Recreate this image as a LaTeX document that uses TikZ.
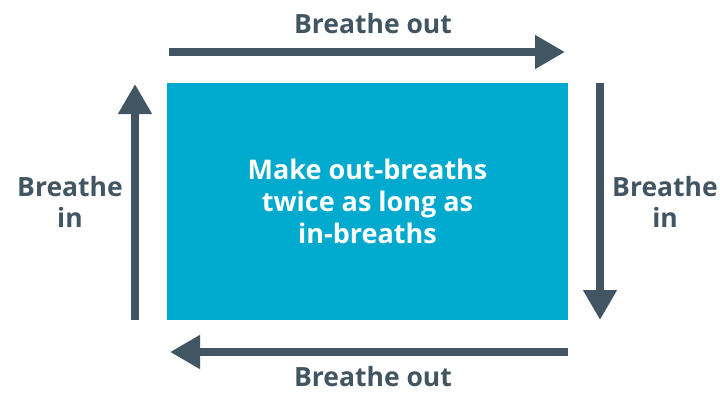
\documentclass[tikz,border=0pt]{standalone}
\usepackage{fontspec}
\setmainfont{Open Sans}
\usepackage{xcolor}
\usetikzlibrary{positioning, arrows.meta}
\definecolor{breathblue}{HTML}{00A9CE}
\definecolor{breathgrey}{HTML}{425563}

\begin{document}
\begin{tikzpicture}[x=1pt, y=-1pt,
  flow/.style={line width=8pt, draw=breathgrey, -{Triangle[length=30pt, width=32pt]}},
  breathlbl/.style={text=breathgrey, inner sep=0pt, font=\bfseries\fontsize{26.5}{31}\selectfont, align=center}]
\useasboundingbox (0,0) rectangle (720,392);
% the box in the middle
\node[fill=breathblue, minimum width=401pt, minimum height=237pt, text=white,
  font=\bfseries\fontsize{27}{32}\selectfont, align=center] (box) at (367.5,201.5)
  {Make out-breaths\\twice as long as\\in-breaths};
% arrow ends
\coordinate (topA) at (169,52);
\coordinate (topB) at (565,52);
\coordinate (rightA) at (600,83);
\coordinate (rightB) at (600,320);
\coordinate (botA) at (568,352);
\coordinate (botB) at (170,352);
\coordinate (leftA) at (135,320);
\coordinate (leftB) at (135,84);
\draw[flow] (topA) -- (topB);
\draw[flow] (rightA) -- (rightB);
\draw[flow] (botA) -- (botB);
\draw[flow] (leftA) -- (leftB);
% labels
\node[breathlbl] (outtop) at (373,24) {Breathe out};
\node[breathlbl] (outbot) at (373,377) {Breathe out};
\node[breathlbl] (inleft) at (70,202) {Breathe\\in};
\node[breathlbl] (inright) at (665,202) {Breathe\\in};
\end{tikzpicture}
\end{document}
